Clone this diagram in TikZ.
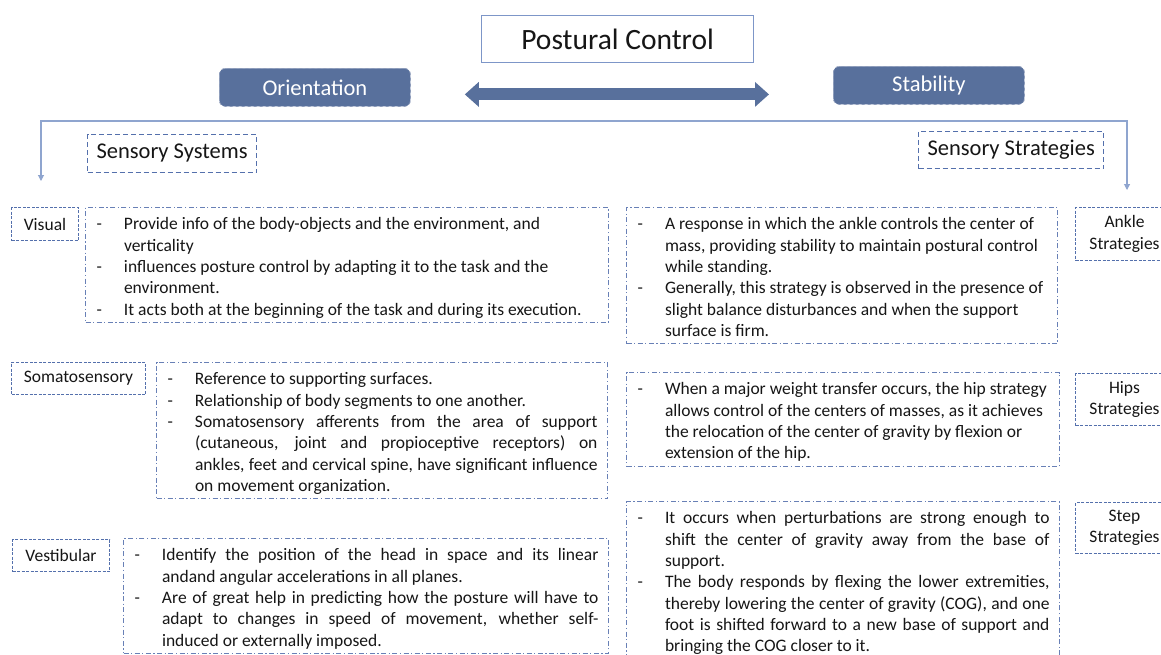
\documentclass[tikz,border=0pt]{standalone}
\usepackage{fontspec}
\setmainfont{Carlito}
\usetikzlibrary{arrows.meta}

\definecolor{branchFill}{RGB}{88,112,156}
\definecolor{branchEdge}{RGB}{140,155,186}
\definecolor{titleFrame}{RGB}{125,150,200}
\definecolor{labelFrame}{RGB}{84,112,172}
\definecolor{notesFrame}{RGB}{104,128,182}
\definecolor{lineBlue}{RGB}{143,165,207}
\definecolor{inkGrey}{RGB}{22,22,22}

\hyphenpenalty=10000
\newcommand{\notesize}{\fontsize{17.5}{21.3}\selectfont}
% one "-" item with a hanging indent; \par closes the last one
\newcommand{\dashitem}{\par\noindent\hangindent=28.5pt\hangafter=1\strut\makebox[28.5pt][l]{\hspace{1pt}-}\ignorespaces}

\tikzset{
  titlebox/.style={draw=titleFrame, line width=1.2pt, fill=white, text=inkGrey, minimum width=272pt, minimum height=47pt, font=\fontsize{29.5}{36}\selectfont},
  branchbox/.style={draw=branchEdge, fill=branchFill, dashed, line width=0.8pt, rounded corners=6pt, text=white, minimum width=191pt, minimum height=38pt, font=\fontsize{22.5}{27.5}\selectfont},
  groupbox/.style={draw=labelFrame, dash pattern=on 5pt off 3pt, line width=1pt, inner xsep=9pt, text=inkGrey, font=\fontsize{22.5}{27.5}\selectfont},
  tagbox/.style={draw=labelFrame, dash pattern=on 3pt off 1.5pt, line width=1pt, text=inkGrey, font=\notesize, align=center},
  notebox/.style={draw=notesFrame, dash pattern=on 5pt off 2.5pt on 1.2pt off 2.5pt, line width=1pt, inner xsep=10pt, inner ysep=1pt, text=inkGrey, font=\notesize},
  link/.style={draw=lineBlue, line width=1.1pt},
  twoway/.style={draw=branchFill, line width=12pt, {Triangle[length=14pt,width=24pt]}-{Triangle[length=14pt,width=24pt]}},
}

\begin{document}
\begin{tikzpicture}[x=1pt, y=-1pt]
  \path[use as bounding box, fill=white] (0,0) rectangle (1161,654);
  \clip (0,0) rectangle (1161,654);

  % top level
  \node[titlebox, anchor=north west] (posture) at (481,15) {Postural Control};
  \node[branchbox, anchor=north west] (orient) at (219,68) {Orientation};
  \node[branchbox, anchor=north west] (stab) at (833,66) {Stability};
  \draw[twoway, shorten <=54pt, shorten >=64pt] ([yshift=-7pt]orient.east) -- ([yshift=-7pt]orient.east -| stab.west);

  % branch line down both sides
  \coordinate (lturn) at (41,121);
  \coordinate (rturn) at (1127,121);
  \coordinate (ldown) at (41,181);
  \coordinate (rdown) at (1127,190);
  \draw[link, {Triangle[length=6pt,width=6pt]}-{Triangle[length=6pt,width=6pt]}] (ldown) -- (lturn) -- (rturn) -- (rdown);

  \node[groupbox, anchor=north west, minimum height=38pt] (systems) at (87,134) {Sensory Systems};
  \node[groupbox, anchor=north west, minimum height=37pt] (strategies) at (918,131) {Sensory Strategies};

  % sensory systems
  \node[tagbox, anchor=north west, minimum width=67pt, minimum height=33pt] (visual) at (11,207) {Visual};
  \node[tagbox, anchor=north west, minimum width=134pt, minimum height=32pt] (somato) at (11,362) {Somatosensory};
  \node[tagbox, anchor=north west, minimum width=97pt, minimum height=32pt] (vestib) at (12,539) {Vestibular};

  \node[notebox, anchor=north west, text width=503pt, align=flush left] (visualtxt) at (85,207) {%
    \dashitem Provide info of the body-objects and the environment, and\newline verticality
    \dashitem influences posture control by adapting it to the task and the\newline environment.
    \dashitem It acts both at the beginning of the task and during its execution.\strut\par};
  \node[notebox, anchor=north west, text width=431pt, align=justify] (somatotxt) at (156,362) {%
    \dashitem Reference to supporting surfaces.
    \dashitem Relationship of body segments to one another.
    \dashitem Somatosensory afferents from the area of support\linebreak (cutaneous, joint and propioceptive receptors) on\linebreak ankles, feet and cervical spine, have significant influence\linebreak on movement organization.\strut\par};
  \node[notebox, anchor=north west, text width=465pt, align=justify] (vestibtxt) at (123,538) {%
    \dashitem Identify the position of the head in space and its linear\linebreak andand angular accelerations in all planes.
    \dashitem Are of great help in predicting how the posture will have to\linebreak adapt to changes in speed of movement, whether self-\linebreak induced or externally imposed.\strut\par};

  % sensory strategies
  \node[notebox, anchor=north west, text width=411pt, align=flush left] (ankletxt) at (626,207) {%
    \dashitem A response in which the ankle controls the center of\newline mass, providing stability to maintain postural control\newline while standing.
    \dashitem Generally, this strategy is observed in the presence of\newline slight balance disturbances and when the support\newline surface is firm.\strut\par};
  \node[notebox, anchor=north west, text width=413pt, align=flush left] (hipstxt) at (626,372) {%
    \dashitem When a major weight transfer occurs, the hip strategy\newline allows control of the centers of masses, as it achieves\newline the relocation of the center of gravity by flexion or\newline extension of the hip.\strut\par};
  \node[notebox, anchor=north west, text width=413pt, align=justify] (steptxt) at (626,501) {%
    \dashitem It occurs when perturbations are strong enough to\linebreak shift the center of gravity away from the base of\linebreak support.
    \dashitem The body responds by flexing the lower extremities,\linebreak thereby lowering the center of gravity (COG), and one\linebreak foot is shifted forward to a new base of support and\linebreak bringing the COG closer to it.\strut\par};

  \node[tagbox, anchor=north west, minimum width=98pt, minimum height=53pt] (ankle) at (1075,207) {Ankle\\Strategies};
  \node[tagbox, anchor=north west, minimum width=98pt, minimum height=52pt] (hips) at (1075,373) {Hips\\Strategies};
  \node[tagbox, anchor=north west, minimum width=98pt, minimum height=51pt] (step) at (1075,502) {Step\\Strategies};
\end{tikzpicture}
\end{document}
